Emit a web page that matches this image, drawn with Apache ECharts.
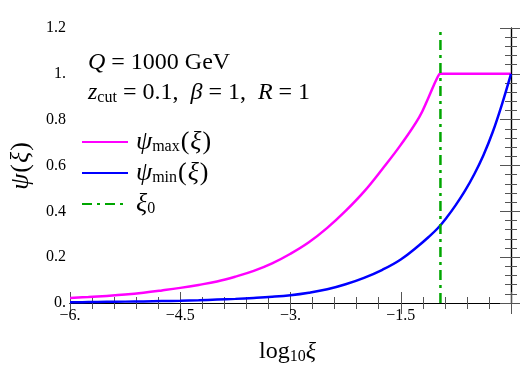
<!DOCTYPE html>
<html>
<head>
<meta charset="utf-8">
<script src="https://cdn.jsdelivr.net/npm/echarts@6/dist/echarts.min.js"></script>
<style>
html, body { margin: 0; padding: 0; background: #fff; }
#main { width: 520px; height: 370px; }
</style>
</head>
<body>
<div id="main"></div>
<script>
// psi_max(xi) (x = log10 xi)
var maxX = [-6, -5.75, -5.5, -5.25, -5, -4.75, -4.5, -4.25, -4, -3.75, -3.5, -3.25, -3, -2.75, -2.5, -2.25, -2, -1.75, -1.5, -1.25, -1.125, -1.0, -0.96, -0.75, -0.5, -0.25, 0];
var maxY = [0.022, 0.026, 0.031, 0.037, 0.045, 0.055, 0.066, 0.079, 0.094, 0.115, 0.140, 0.173, 0.215, 0.265, 0.328, 0.402, 0.486, 0.585, 0.690, 0.810, 0.895, 0.985, 1.0, 1.0, 1.0, 1.0, 1.0];
// psi_min(xi)
var minX = [-6, -5.75, -5.5, -5.25, -5, -4.75, -4.5, -4.25, -4, -3.75, -3.5, -3.25, -3, -2.75, -2.5, -2.25, -2, -1.75, -1.5, -1.25, -1.125, -1, -0.875, -0.75, -0.625, -0.5, -0.375, -0.25, -0.125, 0];
var minY = [0.003, 0.004, 0.005, 0.006, 0.007, 0.0085, 0.010, 0.012, 0.015, 0.018, 0.022, 0.027, 0.034, 0.045, 0.060, 0.082, 0.110, 0.145, 0.190, 0.252, 0.287, 0.325, 0.373, 0.428, 0.490, 0.562, 0.645, 0.745, 0.865, 1.0];
// xi_0
var xi0 = -0.96;
var xi0Y = [0, 1.2];

var xTickVals = [-6, -4.5, -3, -1.5, 0];
var xTickLabels = ['\u22126.', '\u22124.5', '\u22123.', '\u22121.5', ''];
var yTickVals = [0, 0.2, 0.4, 0.6, 0.8, 1, 1.2];
var yTickLabels = ['0.', '0.2', '0.4', '0.6', '0.8', '1.', '1.2'];

var serif = 'Liberation Serif';

function pairs(xs, ys) {
    var out = [];
    for (var i = 0; i < xs.length; i++) out.push([xs[i], ys[i]]);
    return out;
}
function pick(vals, labels, v) {
    for (var i = 0; i < vals.length; i++) {
        if (Math.abs(vals[i] - v) < 1e-6) return labels[i];
    }
    return '';
}

var richText = {
    i: { fontFamily: serif, fontStyle: 'italic', fontSize: 24, color: '#000', lineHeight: 26 },
    n: { fontFamily: serif, fontSize: 24, color: '#000', lineHeight: 26 },
    s: { fontFamily: serif, fontSize: 16, color: '#000', lineHeight: 16, padding: [9, 0, 0, 0], verticalAlign: 'bottom' },
    // legend pieces
    L: { fontFamily: serif, fontStyle: 'italic', fontSize: 26, color: '#000', lineHeight: 26, padding: [0, 0, 0, 3] },
    k: { fontFamily: serif, fontSize: 26, color: '#000', lineHeight: 26, padding: [0, 1, 0, 1] },
    x: { fontFamily: serif, fontStyle: 'italic', fontSize: 26, color: '#000', lineHeight: 26 }
};

var legendText = {
    'psiMax': '{L|\u03c8}{s|max}{k|(}{x|\u03be}{k|)}',
    'psiMin': '{L|\u03c8}{s|min}{k|(}{x|\u03be}{k|)}',
    'xi0': '{L|\u03be}{s|0}'
};

var myChart = echarts.init(document.getElementById('main'));

var tickStyle = { color: '#555', width: 1 };

var option = {
    animation: false,
    backgroundColor: '#fff',
    grid: { left: 59, right: 9, top: 28, bottom: 63 },
    xAxis: [{
        type: 'value', min: -6, max: 0, interval: 1.5,
        position: 'bottom',
        name: '{n|log}{s|10}{i|\u03be}',
        nameLocation: 'middle', nameGap: 36,
        nameTextStyle: { rich: richText, padding: [0, 6, 0, 0] },
        axisLine: { lineStyle: { color: '#000', width: 1.2 } },
        axisTick: { inside: true, length: 11, lineStyle: tickStyle },
        minorTick: { show: true, splitNumber: 5, length: 6, lineStyle: tickStyle },
        splitLine: { show: false },
        axisLabel: {
            color: '#000', fontFamily: serif, fontSize: 16, margin: 5,
            formatter: function (v) { return pick(xTickVals, xTickLabels, v); }
        }
    }, {
        type: 'value', min: -6, max: 0, interval: 1.5,
        position: 'top',
        axisLine: { lineStyle: { color: '#000', width: 1.2 } },
        axisTick: { inside: true, length: 11, lineStyle: tickStyle },
        minorTick: { show: true, splitNumber: 5, length: 6, lineStyle: tickStyle },
        splitLine: { show: false },
        axisLabel: { show: false }
    }],
    yAxis: [{
        type: 'value', min: 0, max: 1.2, interval: 0.2,
        position: 'left',
        name: '{x|\u03c8}{k|(}{x|\u03be}{k|)}',
        nameLocation: 'middle', nameGap: 36, nameRotate: 90,
        nameTextStyle: { rich: richText },
        axisLine: { lineStyle: { color: '#000', width: 1.2 } },
        axisTick: { inside: true, length: 11, lineStyle: tickStyle },
        minorTick: { show: true, splitNumber: 5, length: 6, lineStyle: tickStyle },
        splitLine: { show: false },
        axisLabel: {
            color: '#000', fontFamily: serif, fontSize: 16, margin: 4,
            formatter: function (v) { return pick(yTickVals, yTickLabels, v); }
        }
    }, {
        type: 'value', min: 0, max: 1.2, interval: 0.2,
        position: 'right',
        axisLine: { lineStyle: { color: '#000', width: 1.2 } },
        axisTick: { inside: true, length: 11, lineStyle: tickStyle },
        minorTick: { show: true, splitNumber: 5, length: 6, lineStyle: tickStyle },
        splitLine: { show: false },
        axisLabel: { show: false }
    }],
    legend: {
        orient: 'vertical', left: 76, top: 124,
        itemWidth: 46, itemHeight: 14, itemGap: 5,
        itemStyle: { opacity: 0 },
        textStyle: { rich: richText },
        formatter: function (name) { return legendText[name]; },
        data: ['psiMax', 'psiMin', 'xi0']
    },
    graphic: [{
        type: 'text', left: 88, top: 51,
        style: {
            text: '{i|Q}{n| = 1000 GeV}',
            fontFamily: serif, fontSize: 24, fill: '#000',
            rich: richText
        }
    }, {
        type: 'text', left: 88, top: 81,
        style: {
            text: '{i|z}{s|cut}{n| = 0.1,  }{i|\u03b2}{n| = 1,  }{i|R}{n| = 1}',
            fontFamily: serif, fontSize: 24, fill: '#000',
            rich: richText
        }
    }],
    series: [{
        name: 'psiMax', type: 'line', symbol: 'none', smooth: 0.4,
        lineStyle: { color: '#ff00ff', width: 2.5 },
        itemStyle: { color: '#ff00ff' },
        data: pairs(maxX, maxY)
    }, {
        name: 'psiMin', type: 'line', symbol: 'none', smooth: 0.4,
        lineStyle: { color: '#0000ff', width: 2.5 },
        itemStyle: { color: '#0000ff' },
        data: pairs(minX, minY)
    }, {
        name: 'xi0', type: 'line', symbol: 'none',
        lineStyle: { color: '#00a600', width: 2.5, type: [10, 5, 3, 5] },
        itemStyle: { color: '#00a600' },
        data: pairs([xi0, xi0], xi0Y)
    }]
};

myChart.setOption(option);
</script>
</body>
</html>
